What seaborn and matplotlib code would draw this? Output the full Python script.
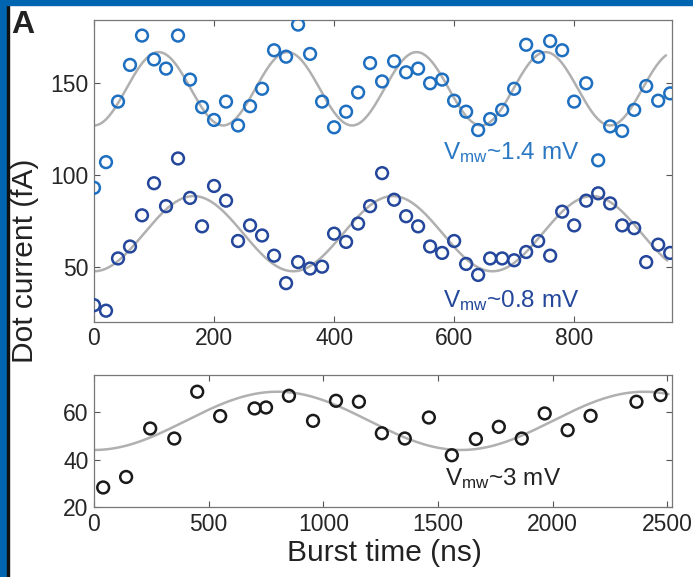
import numpy as np
import matplotlib
matplotlib.use("Agg")
import matplotlib.pyplot as plt
import seaborn as sns
from matplotlib.patches import Rectangle

sns.set_theme(style="white")
plt.rcParams["font.family"] = ["Liberation Sans", "DejaVu Sans"]

# ── data ─────────────────────────────────────────────────────────────────
burst_ns_top = [0, 20, 40, 60, 80, 100, 120, 140, 160, 180, 200, 220, 240,
                260, 280, 300, 320, 340, 360, 380, 400, 420, 440, 460, 480,
                500, 520, 540, 560, 580, 600, 620, 640, 660, 680, 700, 720,
                740, 760, 780, 800, 820, 840, 860, 880, 900, 920, 940, 960]

current_14mv = [93, 107, 140, 160, 176, 163, 158, 176, 152, 137, 130, 140,
                127, 137.5, 147, 168, 164.5, 182, 166, 140, 126, 134.5, 145,
                161, 151, 162, 156, 158, 150, 152, 140.5, 134.5, 124.5, 130.5,
                135.5, 147, 171, 164.5, 173, 168, 140, 150, 108, 126.5, 124,
                135.5, 148.5, 140.5, 144.5]

current_08mv = [29, 26, 54.5, 61, 78, 95.5, 83, 109, 87.5, 72, 94, 86, 64,
                72.5, 67, 56, 41, 52.5, 49, 50, 68, 63.5, 73.5, 83, 101, 86.5,
                77.5, 72, 61, 57.5, 64, 51.5, 45.5, 54.5, 54.5, 53.5, 58, 64,
                56, 80, 72.5, 86, 90, 84.5, 72.5, 71, 52.5, 62, 57.5]

burst_ns_3mv = [40, 140, 245, 350, 450, 550, 700, 750, 850, 955, 1055, 1155,
                1255, 1355, 1460, 1560, 1665, 1765, 1865, 1965, 2065, 2165,
                2365, 2470]
current_3mv = [28.3, 32.7, 53, 48.8, 68.4, 58.2, 61.4, 61.8, 66.7, 56.2, 64.6,
               64.2, 51, 48.8, 57.6, 41.8, 48.6, 53.7, 48.8, 59.3, 52.3, 58.3,
               64.2, 67]

# fitted Rabi curves: offset, amplitude, period (ns), end of fit (ns)
fit_14mv = [147, 20, 215, 953]
fit_08mv = [68, 20.5, 332, 955]
fit_3mv = [56.2, 12.2, 1600, 2505]

C_14 = "#1f6fc0"
C_08 = "#24479b"
C_3 = "#1a1a1a"
GRAY = "#b0b0b0"
FRAME = "#0065b1"


def fit_curve(params):
    off, amp, per, t_end = params
    t = np.linspace(0, t_end, 500)
    return t, off - amp * np.cos(2 * np.pi * t / per)


def style_axes(ax):
    ax.tick_params(direction="in", length=4, width=0.8, color="#555555",
                   bottom=True, left=True, top=True, right=True,
                   labelsize=16.5, pad=4, labelcolor="#262626")
    for sp in ax.spines.values():
        sp.set_visible(True)
        sp.set_color("#777777")
        sp.set_linewidth(0.9)


fig = plt.figure(figsize=(6.93, 5.77), dpi=100)
W, H = 693, 577
ax1 = fig.add_axes([94 / W, 1 - 321.7 / H, 578 / W, 301.7 / H])
ax2 = fig.add_axes([94 / W, 1 - 507.3 / H, 578 / W, 132.3 / H])

# ── panel superior ───────────────────────────────────────────────────────
for params in (fit_14mv, fit_08mv):
    t, y = fit_curve(params)
    sns.lineplot(x=t, y=y, ax=ax1, color=GRAY, linewidth=1.8,
                 estimator=None, sort=False, zorder=1)

marker_kw = dict(marker="o", s=72, facecolors="none", linewidth=1.8,
                 legend=False, zorder=3)
sns.scatterplot(x=burst_ns_top, y=current_14mv, ax=ax1, color=C_14,
                edgecolor=C_14, **marker_kw)
sns.scatterplot(x=burst_ns_top, y=current_08mv, ax=ax1, color=C_08,
                edgecolor=C_08, **marker_kw)

ax1.set_xlim(0, 963)
ax1.set_ylim(20, 184.5)
ax1.set_xticks([0, 200, 400, 600, 800])
ax1.set_yticks([50, 100, 150])
ax1.set_xlabel("")
ax1.set_ylabel("")
style_axes(ax1)

ax1.text(582, 112, r"$\mathregular{V_{mw}}$~1.4 mV", color="#2a78c4",
         fontsize=17.5, va="center", ha="left")
ax1.text(582, 31.8, r"$\mathregular{V_{mw}}$~0.8 mV", color=C_08,
         fontsize=17.5, va="center", ha="left")

# ── panel inferior ───────────────────────────────────────────────────────
t, y = fit_curve(fit_3mv)
sns.lineplot(x=t, y=y, ax=ax2, color=GRAY, linewidth=1.8,
             estimator=None, sort=False, zorder=1)
sns.scatterplot(x=burst_ns_3mv, y=current_3mv, ax=ax2, color=C_3,
                edgecolor=C_3, **marker_kw)

ax2.set_xlim(0, 2520)
ax2.set_ylim(20, 75.4)
ax2.set_xticks([0, 500, 1000, 1500, 2000, 2500])
ax2.set_yticks([20, 40, 60])
ax2.set_xlabel("")
ax2.set_ylabel("")
style_axes(ax2)

ax2.text(1532, 32.1, r"$\mathregular{V_{mw}}$~3 mV", color="#222222",
         fontsize=17.5, va="center", ha="left")

# ── labels and frame ─────────────────────────────────────────────────────
fig.text(384 / W, 1 - 553 / H, "Burst time (ns)", fontsize=21.5,
         ha="center", va="center", color="#222222")
fig.text(25 / W, 1 - 261 / H, "Dot current (fA)", fontsize=21.5,
         rotation=90, ha="center", va="center", color="#222222")
fig.text(11.7 / W, 1 - 32.7 / H, "A", fontsize=23, fontweight="bold",
         ha="left", va="baseline", color="#222222")

fig.patches.append(Rectangle((0, 0), 7.4 / W, 1, transform=fig.transFigure,
                             color=FRAME, zorder=10))
fig.patches.append(Rectangle((7.4 / W, 0), 1.9 / W, 1 - 5 / H,
                             transform=fig.transFigure, color="#111111",
                             zorder=10))
fig.patches.append(Rectangle((0, 1 - 5 / H), 1, 5 / H,
                             transform=fig.transFigure, color=FRAME,
                             zorder=10))

fig.savefig("out.png", dpi=100)
